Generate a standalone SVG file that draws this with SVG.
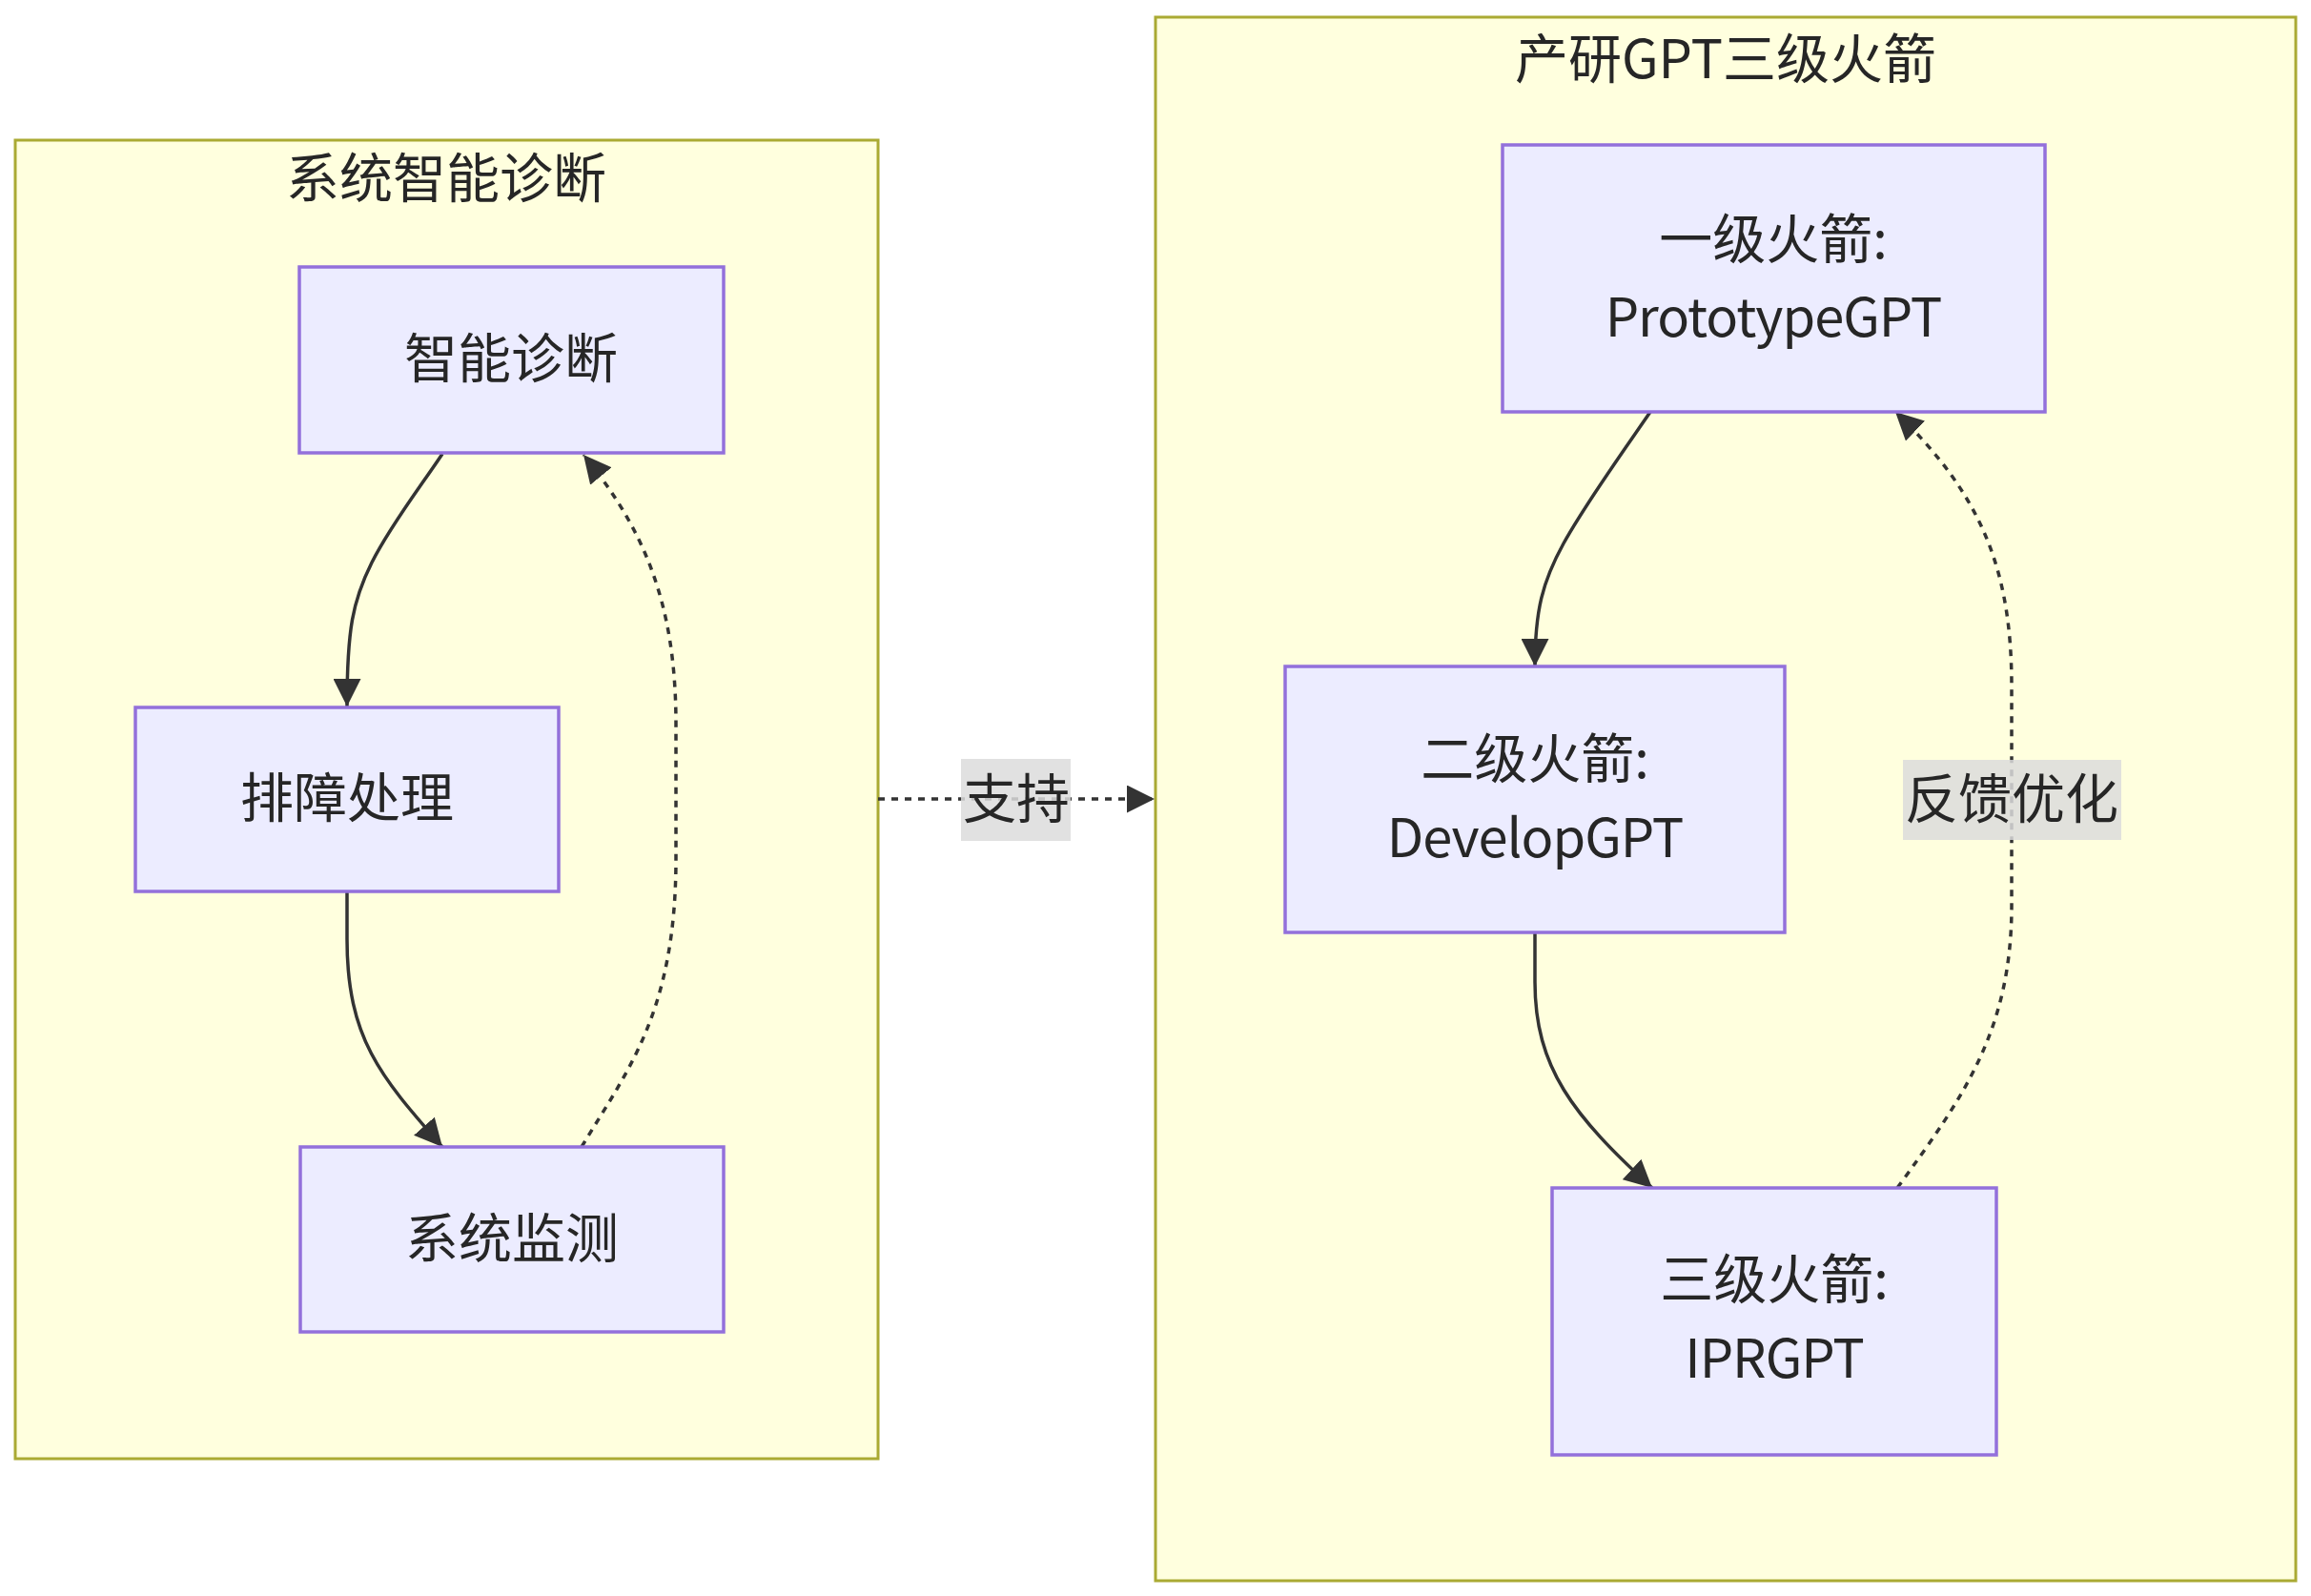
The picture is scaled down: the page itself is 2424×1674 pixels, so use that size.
<svg xmlns="http://www.w3.org/2000/svg" width="2424" height="1674" viewBox="0 0 2424 1674">
<style>
.cluster{fill:#ffffde;stroke:#aaaa33;stroke-width:3}
.node{fill:#ececff;stroke:#9370db;stroke-width:3.5}
.t{font-family:"Noto Sans CJK SC","Noto Sans",sans-serif;font-size:56px;fill:#262626;text-anchor:middle;dominant-baseline:central}
.lat{letter-spacing:-1px}
.edge{fill:none;stroke:#333333;stroke-width:3.5}
.dot{stroke-dasharray:7,7}
.lbl{fill:#dcdcdc;fill-opacity:0.85}
</style>
<defs>
<marker id="arrow" viewBox="0 0 10 10" refX="10" refY="5" markerWidth="29" markerHeight="29" markerUnits="userSpaceOnUse" orient="auto">
<path d="M0,0 L10,5 L0,10 z" fill="#333333"/>
</marker>
</defs>
<rect width="2424" height="1674" fill="#ffffff"/>
<g id="cluster-diag">
<rect class="cluster" x="16" y="147" width="905" height="1383"/>
<text class="t" x="468" y="182">系统智能诊断</text>
</g>
<g id="cluster-rocket">
<rect class="cluster" x="1212" y="18" width="1196" height="1640"/>
<text class="t" x="1810" y="57">产研GPT三级火箭</text>
</g>
<g id="connectors">
<path class="edge" d="M464,476 C445,505 410,550 390,590 C370,630 364,660 364,741" marker-end="url(#arrow)"/>
<path class="edge" d="M364,935 L364,985 C364,1090 400,1130 464,1203" marker-end="url(#arrow)"/>
<path class="edge dot" d="M610,1203 C660,1120 709,1060 709,900 L709,760 C709,640 680,560 612,477" marker-end="url(#arrow)"/>
<path class="edge dot" d="M921,838 L1211,838" marker-end="url(#arrow)"/>
<path class="edge" d="M1731,432 C1712,460 1665,525 1640,570 C1618,610 1610,640 1610,699" marker-end="url(#arrow)"/>
<path class="edge" d="M1610,978 L1610,1030 C1610,1120 1650,1170 1733,1246" marker-end="url(#arrow)"/>
<path class="edge dot" d="M1990,1246 C2060,1150 2110,1080 2110,950 L2110,720 C2110,600 2080,520 1988,432" marker-end="url(#arrow)"/>
<g id="label-support">
<rect class="lbl" x="1008" y="796" width="115" height="86"/>
<text class="t" x="1066" y="833">支持</text>
</g>
<g id="label-feedback">
<rect class="lbl" x="1996" y="797" width="229" height="84"/>
<text class="t" x="2110" y="833">反馈优化</text>
</g>
</g>
<g id="node-zhineng">
<rect class="node" x="314" y="280" width="445" height="195"/>
<text class="t" x="536" y="371">智能诊断</text>
</g>
<g id="node-paizhang">
<rect class="node" x="142" y="742" width="444" height="193"/>
<text class="t" x="364" y="832">排障处理</text>
</g>
<g id="node-jiance">
<rect class="node" x="315" y="1203" width="444" height="194"/>
<text class="t" x="537" y="1294">系统监测</text>
</g>
<g id="node-rocket1">
<rect class="node" x="1576" y="152" width="569" height="280"/>
<text class="t" x="1860" y="246">一级火箭:</text>
<text class="t lat" x="1860" y="328">PrototypeGPT</text>
</g>
<g id="node-rocket2">
<rect class="node" x="1348" y="699" width="524" height="279"/>
<text class="t" x="1610" y="791">二级火箭:</text>
<text class="t lat" x="1610" y="874">DevelopGPT</text>
</g>
<g id="node-rocket3">
<rect class="node" x="1628" y="1246" width="466" height="280"/>
<text class="t" x="1861" y="1337">三级火箭:</text>
<text class="t lat" x="1861" y="1420">IPRGPT</text>
</g>
</svg>
